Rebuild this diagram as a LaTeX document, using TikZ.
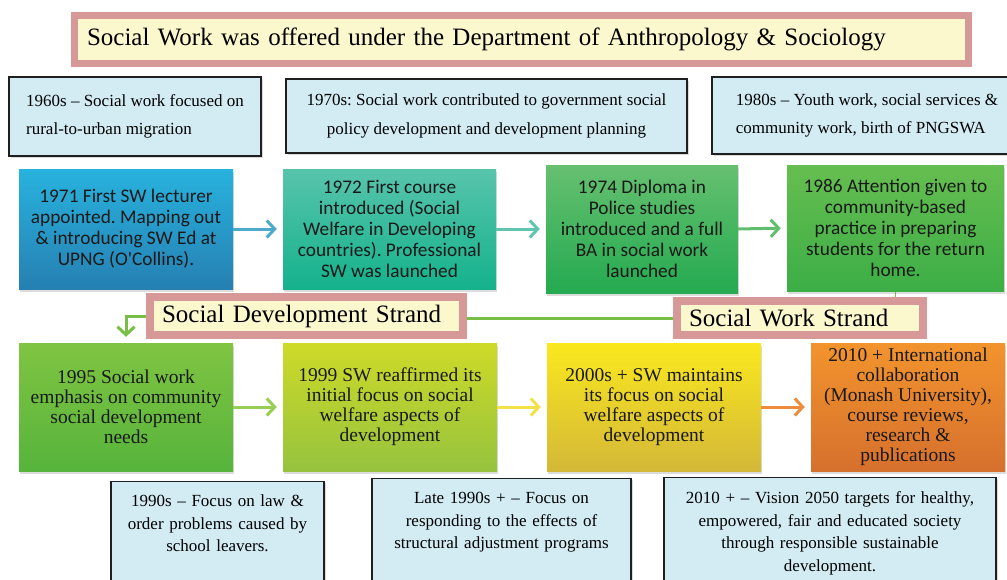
\documentclass[tikz,border=0pt]{standalone}
\usepackage{fontspec}
\setmainfont{Liberation Serif}
\newfontfamily\carl{Carlito}
\usetikzlibrary{arrows.meta,shadows,backgrounds}
\frenchspacing
\definecolor{lblue}{RGB}{211,236,243}
\definecolor{pinkf}{RGB}{215,152,152}
\definecolor{cream}{RGB}{251,248,206}
\definecolor{bAt}{RGB}{40,178,222}\definecolor{bAb}{RGB}{38,128,178}
\definecolor{bBt}{RGB}{88,196,172}\definecolor{bBb}{RGB}{20,178,140}
\definecolor{bCt}{RGB}{102,192,112}\definecolor{bCb}{RGB}{36,170,80}
\definecolor{bDt}{RGB}{102,190,80}\definecolor{bDb}{RGB}{60,174,70}
\definecolor{cAt}{RGB}{128,196,66}\definecolor{cAb}{RGB}{86,180,60}
\definecolor{cBt}{RGB}{206,218,40}\definecolor{cBb}{RGB}{150,195,62}
\definecolor{cCt}{RGB}{250,232,30}\definecolor{cCb}{RGB}{212,184,56}
\definecolor{cDt}{RGB}{242,148,45}\definecolor{cDb}{RGB}{214,112,45}
\definecolor{arA}{RGB}{78,170,202}
\definecolor{arB}{RGB}{96,196,176}
\definecolor{arC}{RGB}{96,190,110}
\definecolor{arD}{RGB}{152,206,82}
\definecolor{arE}{RGB}{242,226,72}
\definecolor{arF}{RGB}{236,140,60}
\definecolor{strandline}{RGB}{118,190,70}
\tikzset{
  lbox/.style={draw=black!88, line width=1.3pt, fill=lblue, inner sep=0pt,
    drop shadow={shadow xshift=1.5pt, shadow yshift=-1.5pt, opacity=0.3}},
  topfont/.style={font=\fontsize{17}{28.5}\selectfont},
  botbox/.style={lbox, anchor=north, align=center, inner xsep=6pt, inner ysep=13pt,
    text height=12pt, text depth=110pt, font=\fontsize{17}{22.6}\selectfont},
  frame/.style={draw=pinkf, fill=cream, line width=8pt, inner ysep=0pt, align=left},
  cbox/.style={inner sep=0pt, align=center, text=black!90,
    drop shadow={shadow xshift=1pt, shadow yshift=-2.5pt, opacity=0.28}},
  rone/.style={cbox, font=\carl\fontsize{19.3}{21}\selectfont},
  rtwo/.style={cbox, font=\fontsize{19.5}{20}\selectfont},
  arr/.style={line width=3pt, -{Straight Barb[length=8pt,width=17pt]}, shorten >=6pt},
}
\begin{document}
\frenchspacing
\begin{tikzpicture}[x=1pt,y=-1pt]
\useasboundingbox (0,0) rectangle (1007,579);

% title
\node[frame, line width=7pt, minimum width=894pt, minimum height=48pt, inner xsep=12.5pt,
  text width=869pt, font=\fontsize{25}{28}\selectfont] (title) at (521.5,39.5)
  {Social Work was offered under the Department of Anthropology \& Sociology};

% top notes
\node[lbox, topfont, align=left, minimum width=252pt, minimum height=79pt] (t1) at (135,116.5)
  {1960s -- Social work focused on\\ rural-to-urban migration};
\node[lbox, topfont, align=center, minimum width=401pt, minimum height=74pt] (t2) at (486.5,116)
  {1970s: Social work contributed to government social\\ policy development and development planning};
\node[lbox, topfont, align=left, minimum width=310pt, minimum height=77pt] (t3) at (867,115.5)
  {1980s -- Youth work, social services \&\\ community work, birth of PNGSWA};

% row 1
\node[rone, top color=bAt, bottom color=bAb, minimum width=214pt, minimum height=120pt] (b1) at (126,229)
  {1971 First SW lecturer\\ appointed. Mapping out\\ \& introducing SW Ed at\\ UPNG (O'Collins).};
\node[rone, top color=bBt, bottom color=bBb, minimum width=213pt, minimum height=120pt] (b2) at (389.5,229)
  {1972 First course\\ introduced (Social\\ Welfare in Developing\\ countries). Professional\\ SW was launched};
\node[rone, top color=bCt, bottom color=bCb, minimum width=192pt, minimum height=128pt] (b3) at (642,229)
  {1974 Diploma in\\ Police studies\\ introduced and a full\\ BA in social work\\ launched};
\node[rone, top color=bDt, bottom color=bDb, minimum width=217pt, minimum height=126pt] (b4) at (895.5,228)
  {1986 Attention given to\\ community-based\\ practice in preparing\\ students for the return\\ home.};

% strands
\node[frame, minimum width=313pt, minimum height=38pt, inner xsep=12pt, text width=289pt,
  font=\fontsize{25}{27}\selectfont] (sds) at (306.5,316) {Social Development Strand};
\node[frame, minimum width=246pt, minimum height=34pt, inner xsep=12pt, text width=222pt,
  font=\fontsize{25}{27}\selectfont] (sws) at (800,318) {Social Work Strand};

% row 2
\node[rtwo, top color=cAt, bottom color=cAb, minimum width=214pt, minimum height=128pt] (c1) at (126,407)
  {1995 Social work\\ emphasis on community\\ social development\\ needs};
\node[rtwo, top color=cBt, bottom color=cBb, minimum width=214pt, minimum height=128pt] (c2) at (390,407)
  {1999 SW reaffirmed its\\ initial focus on social\\ welfare aspects of\\ development};
\node[rtwo, top color=cCt, bottom color=cCb, minimum width=214pt, minimum height=128pt] (c3) at (654,407)
  {2000s + SW maintains\\ its focus on social\\ welfare aspects of\\ development};
\node[rtwo, top color=cDt, bottom color=cDb, minimum width=194pt, minimum height=128pt] (c4) at (908,407)
  {2010 + International\\ collaboration\\ (Monash University),\\ course reviews,\\ research \&\\ publications};

% bottom notes
\node[botbox, text width=201pt] (d1) at (217.5,481)
  {1990s -- Focus on law \&\\ order problems caused by\\ school leavers.};
\node[botbox, text width=247pt] (d2) at (501.5,478)
  {Late 1990s + -- Focus on\\ responding to the effects of\\ structural adjustment programs};
\node[botbox, text width=320pt, inner ysep=14pt] (d3) at (830,477)
  {2010 + -- Vision 2050 targets for healthy,\\ empowered, fair and educated society\\ through responsible sustainable\\ development.};

% connectors
\draw[arr, arA] (b1.east) -- (b2.west);
\draw[arr, arB] (b2.east) -- (b3.west);
\draw[arr, arC] (b3.east) -- (b4.west);
\draw[arr, arD] (c1.east) -- (c2.west);
\draw[arr, arE] (c2.east) -- (c3.west);
\draw[arr, arF] (c3.east) -- (c4.west);
\begin{scope}[on background layer]
\draw[strandline, line width=1.6pt] (b4.south) -- (b4.south |- sws.north);
\draw[strandline, line width=3pt] (sws.west) -- (sws.west -| sds.east);
\draw[arr, strandline] (sds.west) -| (c1.north);
\end{scope}
\end{tikzpicture}
\end{document}
